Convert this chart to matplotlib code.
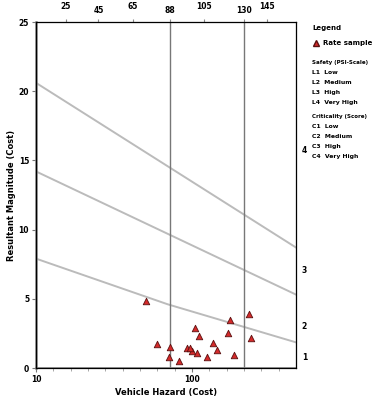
import matplotlib.pyplot as plt

# data
hazard = [73.5, 80.0, 87.3, 86.9, 92.7, 96.9, 99.8, 102.7, 98.8, 101.9,
          103.9, 108.5, 111.9, 114.6, 121.9, 120.9, 124.2, 133.1, 133.9]
magnitude = [4.86, 1.72, 1.54, 0.78, 0.51, 1.43, 1.23, 1.11, 1.45, 2.88,
             2.34, 0.78, 1.79, 1.30, 3.48, 2.51, 0.94, 3.89, 2.15]

limit_x = [10, 160]
limit_high = [20.6, 8.7]
limit_mid = [14.2, 5.3]
limit_low_x = [10, 86, 160]
limit_low = [7.9, 4.6, 1.85]
threshold_x = [87, 130]

top_ticks = [27, 46, 66, 87, 107, 130, 143]
top_labels = ["25", "45", "65", "88", "105", "130", "145"]
right_ticks = [0.8, 3.1, 7.1, 15.8]
right_labels = ["1", "2", "3", "4"]

safety_items = ["L1  Low", "L2  Medium", "L3  High", "L4  Very High"]
crit_items = ["C1  Low", "C2  Medium", "C3  High", "C4  Very High"]

fig = plt.figure(figsize=(3.72, 4.0), dpi=100)
ax = fig.add_axes([0.097, 0.08, 0.699, 0.865])

ax.plot(limit_x, limit_high, color="#bbbbbb", lw=1.4)
ax.plot(limit_x, limit_mid, color="#bbbbbb", lw=1.4)
ax.plot(limit_low_x, limit_low, color="#bbbbbb", lw=1.4)
for xv in threshold_x:
    ax.axvline(xv, color="#777777", lw=1.0)

ax.scatter(hazard, magnitude, marker="^", s=22, facecolor="#d42a2a",
           edgecolor="#5a1010", linewidth=0.6, zorder=3)

ax.set_xlim(10, 160)
ax.set_ylim(0, 25)
ax.set_xticks([10, 100])
ax.set_xticks(range(20, 160, 10), minor=True)
ax.set_yticks([0, 5, 10, 15, 20, 25])
ax.tick_params(labelsize=5.5, length=3, color="#777777", pad=2)
ax.tick_params(which="minor", length=2, color="#999999")
for lab in ax.get_xticklabels() + ax.get_yticklabels():
    lab.set_fontweight("bold")
ax.set_xlabel("Vehicle Hazard (Cost)", fontsize=6, fontweight="bold", labelpad=3)
ax.set_ylabel("Resultant Magnitude (Cost)", fontsize=6, fontweight="bold", labelpad=2)
for sp in ax.spines.values():
    sp.set_color("#888888")
ax.spines["left"].set_linewidth(1.8)
ax.spines["bottom"].set_linewidth(1.2)

top = ax.twiny()
top.set_xlim(ax.get_xlim())
top.set_xticks(top_ticks)
top.set_xticklabels(top_labels, fontsize=5.5, fontweight="bold")
for i, lab in enumerate(top.get_xticklabels()):
    if i % 2 == 0:
        lab.set_y(1.012)
top.tick_params(length=2, color="#888888", pad=3)

right = ax.twinx()
right.set_ylim(ax.get_ylim())
right.set_yticks(right_ticks)
right.set_yticklabels(right_labels, fontsize=5.5, fontweight="bold")
right.tick_params(length=0, pad=4)

# legend panel
lx = 0.84
fig.text(lx, 0.93, "Legend", fontsize=5, fontweight="bold", va="center")
fig.lines.append(plt.Line2D([lx + 0.01], [0.893], marker="^", markersize=4.5,
                            markerfacecolor="#d42a2a", markeredgecolor="#5a1010",
                            transform=fig.transFigure))
fig.text(lx + 0.027, 0.893, "Rate sample", fontsize=5, fontweight="bold", va="center")
fig.text(lx, 0.843, "Safety (PSI-Scale)", fontsize=4.0, fontweight="bold", va="center")
for i, t in enumerate(safety_items):
    fig.text(lx, 0.818 - i * 0.025, t, fontsize=4.4, fontweight="bold", va="center")
fig.text(lx, 0.708, "Criticality (Score)", fontsize=4.0, fontweight="bold", va="center")
for i, t in enumerate(crit_items):
    fig.text(lx, 0.683 - i * 0.025, t, fontsize=4.4, fontweight="bold", va="center")

fig.savefig("out.png", dpi=100)
